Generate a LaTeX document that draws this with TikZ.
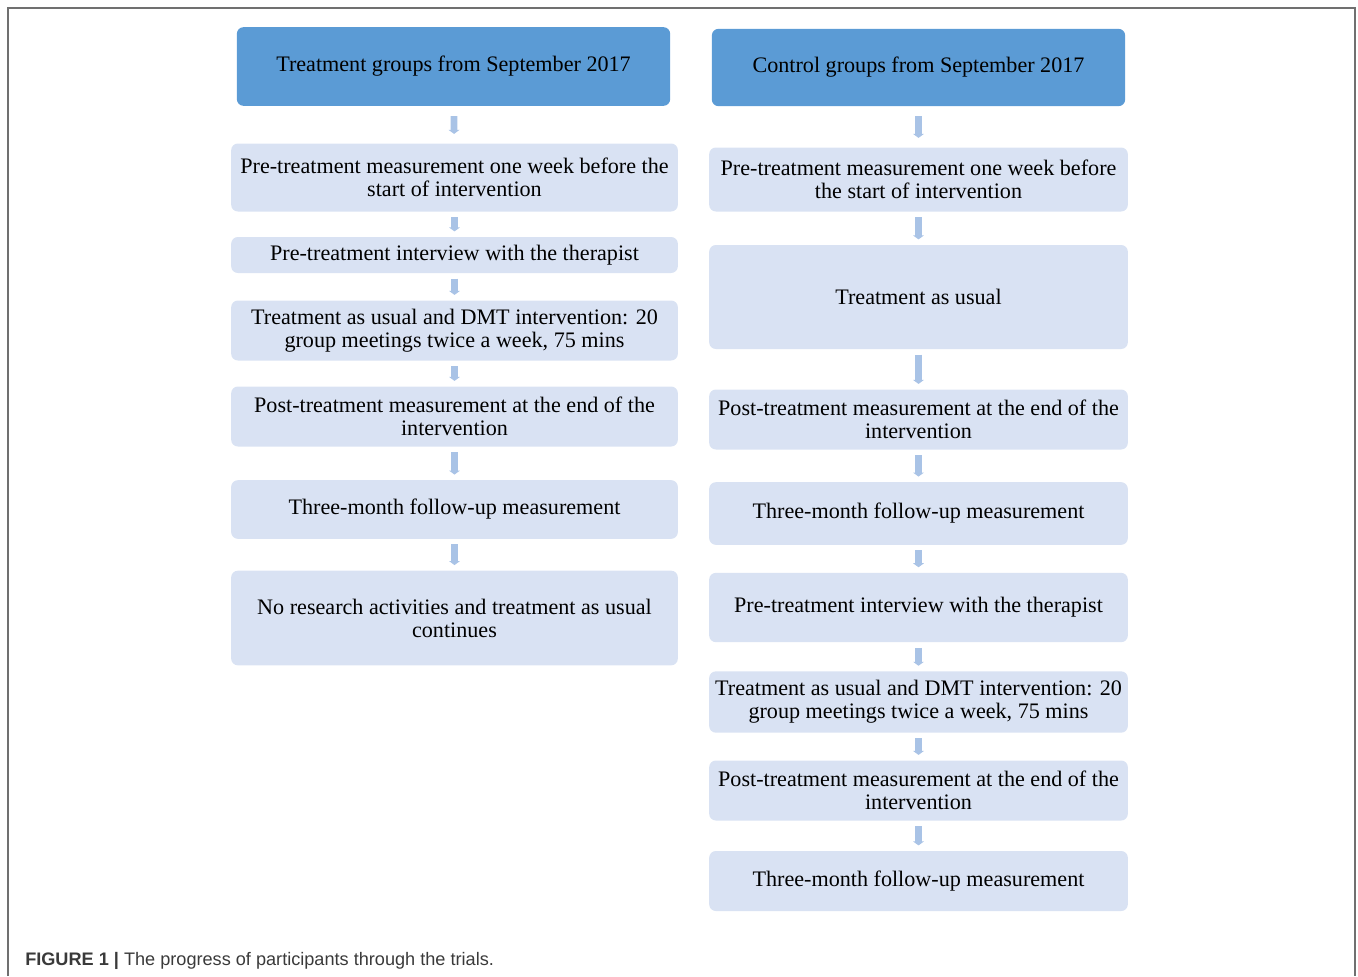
\documentclass[tikz,border=0pt]{standalone}
\usepackage{fontspec}
\setmainfont{Liberation Serif}
\setsansfont{Liberation Sans}
\usetikzlibrary{arrows.meta}
\definecolor{headblue}{HTML}{5B9BD5}
\definecolor{stepblue}{HTML}{D9E2F3}
\definecolor{arrowblue}{HTML}{A9C3E6}
\definecolor{framegray}{HTML}{707070}
\definecolor{captiongray}{HTML}{3A3A3A}
\tikzset{
  stage/.style={fill=stepblue, rounded corners=5pt, align=center, inner sep=0pt,
    font=\fontsize{16.6}{17.25}\selectfont},
  lstage/.style={stage, minimum width=335pt},
  rstage/.style={stage, minimum width=314pt},
  headbox/.style={stage, fill=headblue},
  flow/.style={draw=arrowblue, line width=5pt, -{Triangle[length=3pt,width=8pt]},
    shorten <=4pt, shorten >=4pt},
  topflow/.style={flow, shorten <=7.5pt, shorten >=7pt}
}
\begin{document}
\begin{tikzpicture}[x=0.75pt,y=-0.75pt]
\useasboundingbox (0,0) rectangle (1358,976);
% frame
\draw[framegray, line width=1.2pt] (8,976) -- (8,8) -- (1355,8) -- (1355,976);

% treatment groups
\node[headbox, minimum width=325pt, minimum height=59pt] (lhead) at (453.5,66.5) {Treatment groups from September 2017};
\node[lstage, minimum height=51pt] (l1) at (454.5,177.5) {Pre-treatment measurement one week before the\\start of intervention};
\node[lstage, minimum height=27pt] (l2) at (454.5,255) {Pre-treatment interview with the therapist};
\node[lstage, minimum height=45pt] (l3) at (454.5,330.5) {Treatment as usual and DMT intervention: 20\\group meetings twice a week, 75 mins};
\node[lstage, minimum height=45pt] (l4) at (454.5,416.5) {Post-treatment measurement at the end of the\\intervention};
\node[lstage, minimum height=44pt] (l5) at (454.5,509.5) {Three-month follow-up measurement};
\node[lstage, minimum height=71pt] (l6) at (454.5,618) {No research activities and treatment as usual\\continues};

% control groups
\node[headbox, minimum width=310pt, minimum height=58pt] (rhead) at (918.5,67.5) {Control groups from September 2017};
\node[rstage, minimum height=48pt] (r1) at (918.5,179.5) {Pre-treatment measurement one week before\\the start of intervention};
\node[rstage, minimum height=78pt] (r2) at (918.5,297) {Treatment as usual};
\node[rstage, minimum height=45pt] (r3) at (918.5,419.5) {Post-treatment measurement at the end of the\\intervention};
\node[rstage, minimum height=47pt] (r4) at (918.5,513.5) {Three-month follow-up measurement};
\node[rstage, minimum height=52pt] (r5) at (918.5,607.5) {Pre-treatment interview with the therapist};
\node[rstage, minimum height=46pt] (r6) at (918.5,702) {Treatment as usual and DMT intervention: 20\\group meetings twice a week, 75 mins};
\node[rstage, minimum height=45pt] (r7) at (918.5,790.5) {Post-treatment measurement at the end of the\\intervention};
\node[rstage, minimum height=45pt] (r8) at (918.5,881) {Three-month follow-up measurement};

% arrows
\draw[topflow] (lhead) -- (l1);
\draw[topflow] (rhead) -- (r1);
\foreach \a/\b in {l1/l2,l2/l3,l3/l4,l4/l5,l5/l6,r1/r2,r2/r3,r3/r4,r4/r5,r5/r6,r6/r7,r7/r8}
  \draw[flow] (\a) -- (\b);

% caption
\node[anchor=base west, inner sep=0pt, text=captiongray, font=\sffamily\fontsize{13.6}{16}\selectfont] (caption) at (25,965)
  {\textbf{FIGURE 1} \textbf{|} The progress of participants through the trials.};
\end{tikzpicture}
\end{document}
